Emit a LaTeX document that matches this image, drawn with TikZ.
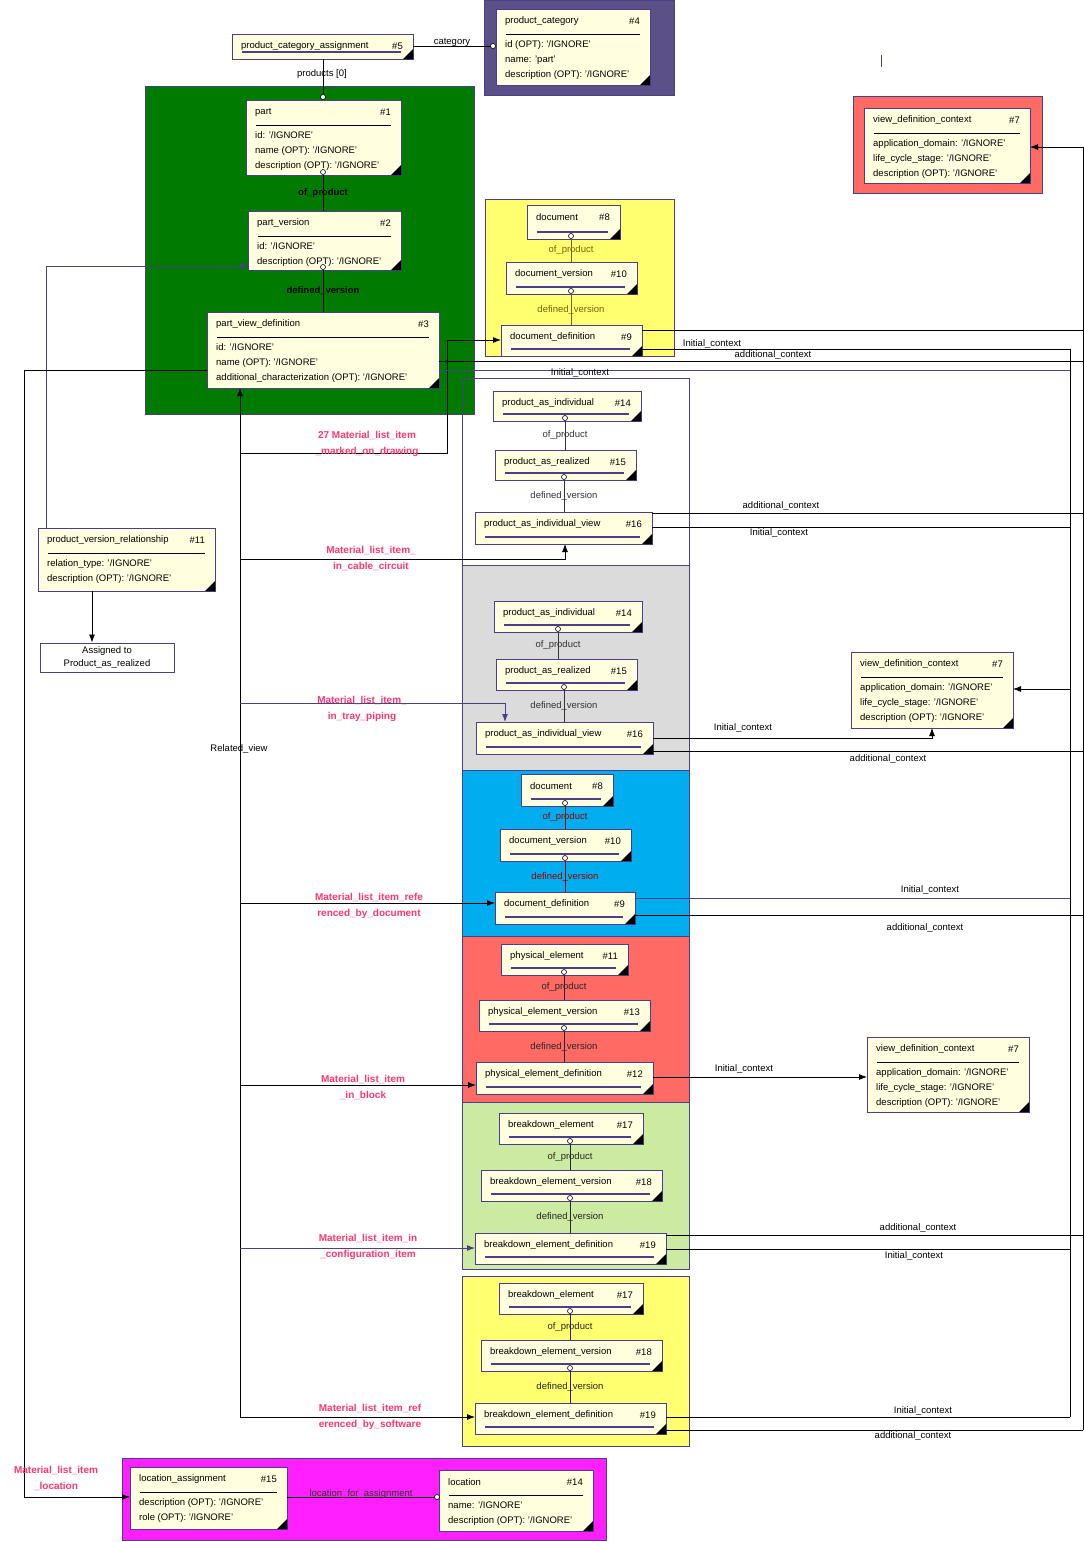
\documentclass[tikz,border=0pt]{standalone}
\usepackage{fontspec}
\setmainfont{Liberation Sans}
\usetikzlibrary{arrows.meta}
\definecolor{cream}{RGB}{255,255,224}
\definecolor{pur}{RGB}{75,63,138}
\definecolor{lbl}{RGB}{255,55,110}
\definecolor{gr}{RGB}{0,122,0}
\definecolor{pcat}{RGB}{91,80,135}
\definecolor{yel}{RGB}{255,255,112}
\definecolor{redc}{RGB}{255,106,100}
\definecolor{lgr}{RGB}{205,235,160}
\definecolor{mag}{RGB}{255,31,255}
\definecolor{olive}{RGB}{128,96,0}
\tikzset{
 ebox/.style={draw=pur,line width=1pt,fill=cream,inner sep=0pt,outer sep=0pt},
 etxt/.style={inner sep=0pt,font=\fontsize{9.5}{15}\selectfont},
 sep/.style={black,line width=0.8pt},
 sepp/.style={pur,line width=1.6pt},
 cont/.style={draw=pur,line width=1pt},
 conn/.style={black,line width=0.8pt},
 pconn/.style={pur,line width=0.9pt},
 arr/.style={-{Latex[length=8pt,width=6pt]}},
 rl/.style={inner sep=0pt,font=\fontsize{9.5}{11}\selectfont},
 red/.style={inner sep=0pt,font=\bfseries\fontsize{10}{16}\selectfont,text=lbl,align=center},
 circ/.style={circle,draw=black,fill=white,inner sep=0pt,minimum size=5pt,line width=0.6pt},
}
\newcommand\ent[8]{%
 \node[ebox,minimum width={(#4-#2)*1pt},minimum height={(#5-#3)*1pt}] (#1) at ({(#2+#4)/2},{(#3+#5)/2}) {};
 \fill[black] (#4,#5) -- ++(0,-10) -- ++(-10,10) -- cycle;
 \node[etxt,anchor=west] at (#2+9,#3+12) {#6};
 \node[etxt,anchor=east] at (#4-10,#3+12) {#7};
 \if\relax\detokenize{#8}\relax
   \draw[sepp] (#2+10,#5-7) -- (#4-12,#5-7);
 \else
   \draw[sep] (#2+10,#3+25) -- (#4-10,#3+25);
   \node[etxt,anchor=north west,align=left] at (#2+9,#3+31) {#8};
 \fi}
% relation: upper node, lower node, x, label, color
\newcommand\rel[5]{%
 \draw[conn,draw=#5] (#3,0|-#1.south) -- (#3,0|-#2.north);
 \node[circ] at ($(#3,0|-#1.south)+(0,-3)$) {};
 \node[rl,text=#5] at ($(#3,0|-#1.south)!0.5!(#3,0|-#2.north)$) {#4};}
\usetikzlibrary{calc}
\begin{document}
\begin{tikzpicture}[x=1pt,y=-1pt]
\useasboundingbox (0,0) rectangle (1084,1542);
% containers
\fill[pcat,draw=pur] (484,0) rectangle (674,95);
\fill[gr,draw=pur] (145,86) rectangle (474,414);
\fill[yel,draw=pur] (485,199) rectangle (674,356);
\fill[redc,draw=pur] (853,96) rectangle (1042,193);
\draw[cont] (462,378) rectangle (689,565);
\fill[black!14,draw=pur] (462,565) rectangle (689,770);
\fill[cyan,draw=pur] (462,770) rectangle (689,936);
\fill[redc,draw=pur] (462,936) rectangle (689,1102);
\fill[lgr,draw=pur] (462,1102) rectangle (689,1269);
\fill[yel,draw=pur] (462,1276) rectangle (689,1446);
\fill[mag,draw=pur] (122,1458) rectangle (606,1540);
\draw[pur,line width=0.8pt] (881,55) -- (881,67);

% ---- connectors behind boxes ----
\coordinate (ra) at (1070,349);
\coordinate (rb) at (1083,147);
\draw[conn] (1070,349) -- (1070,1417);
\draw[conn] (1083,147) -- (1083,1430);
% left rail
\draw[conn] (240,1417) -- (240,395);
\draw[conn] (24,370) -- (24,1497);

\ent{pca}{232}{34}{413}{59}{product\_category\_assignment}{\#5}{}
\ent{pc}{496}{9}{650}{85}{product\_category}{\#4}{id (OPT): '/IGNORE'\\name: 'part'\\description (OPT): '/IGNORE'}
\ent{part}{246}{100}{401}{175}{part}{\#1}{id: '/IGNORE'\\name (OPT): '/IGNORE'\\description (OPT): '/IGNORE'}
\ent{pv}{248}{211}{401}{270}{part\_version}{\#2}{id: '/IGNORE'\\description (OPT): '/IGNORE'}
\ent{pvd}{207}{312}{439}{388}{part\_view\_definition}{\#3}{id: '/IGNORE'\\name (OPT): '/IGNORE'\\additional\_characterization (OPT): '/IGNORE'}
\ent{doca}{527}{205}{620}{239}{document}{\#8}{}
\ent{dva}{506}{262}{637}{294}{document\_version}{\#10}{}
\ent{dda}{501}{325}{642}{356}{document\_definition}{\#9}{}
\ent{vdca}{864}{108}{1030}{183}{view\_definition\_context}{\#7}{application\_domain: '/IGNORE'\\life\_cycle\_stage: '/IGNORE'\\description (OPT): '/IGNORE'}
\ent{paia}{493}{391}{641}{421}{product\_as\_individual}{\#14}{}
\ent{para}{495}{450}{636}{480}{product\_as\_realized}{\#15}{}
\ent{paiva}{475}{512}{652}{544}{product\_as\_individual\_view}{\#16}{}
\ent{paib}{494}{601}{642}{632}{product\_as\_individual}{\#14}{}
\ent{parb}{496}{659}{637}{690}{product\_as\_realized}{\#15}{}
\ent{paivb}{476}{722}{653}{754}{product\_as\_individual\_view}{\#16}{}
\ent{vdcb}{851}{652}{1013}{728}{view\_definition\_context}{\#7}{application\_domain: '/IGNORE'\\life\_cycle\_stage: '/IGNORE'\\description (OPT): '/IGNORE'}
\ent{docb}{521}{774}{613}{806}{document}{\#8}{}
\ent{dvb}{500}{829}{631}{861}{document\_version}{\#10}{}
\ent{ddb}{495}{892}{635}{924}{document\_definition}{\#9}{}
\ent{phe}{501}{944}{628}{975}{physical\_element}{\#11}{}
\ent{pev}{479}{1000}{650}{1031}{physical\_element\_version}{\#13}{}
\ent{ped}{476}{1062}{653}{1094}{physical\_element\_definition}{\#12}{}
\ent{vdcc}{867}{1037}{1029}{1112}{view\_definition\_context}{\#7}{application\_domain: '/IGNORE'\\life\_cycle\_stage: '/IGNORE'\\description (OPT): '/IGNORE'}
\ent{bea}{499}{1113}{643}{1144}{breakdown\_element}{\#17}{}
\ent{beva}{481}{1170}{662}{1201}{breakdown\_element\_version}{\#18}{}
\ent{beda}{475}{1233}{666}{1264}{breakdown\_element\_definition}{\#19}{}
\ent{beb}{499}{1283}{643}{1314}{breakdown\_element}{\#17}{}
\ent{bevb}{481}{1340}{662}{1371}{breakdown\_element\_version}{\#18}{}
\ent{bedb}{475}{1403}{666}{1434}{breakdown\_element\_definition}{\#19}{}
\ent{la}{130}{1467}{287}{1529}{location\_assignment}{\#15}{description (OPT): '/IGNORE'\\role (OPT): '/IGNORE'}
\ent{loc}{439}{1470}{593}{1531}{location}{\#14}{name: '/IGNORE'\\description (OPT): '/IGNORE'}
\ent{pvr}{38}{528}{215}{591}{product\_version\_relationship}{\#11}{relation\_type: '/IGNORE'\\description (OPT): '/IGNORE'}
\node[draw=pur,line width=1pt,fill=white,minimum width=134pt,minimum height=29pt,inner sep=0pt,align=center,font=\fontsize{9.5}{13}\selectfont] (asg) at (107,657.5) {Assigned to\\Product\_as\_realized};

% relations
\rel{part}{pv}{323}{\textbf{of\_product}}{black}
\rel{pv}{pvd}{323}{\textbf{defined\_version}}{black}
\rel{doca}{dva}{571}{of\_product}{olive}
\rel{dva}{dda}{571}{defined\_version}{olive}
\rel{paia}{para}{565}{of\_product}{black!80}
\rel{para}{paiva}{564}{defined\_version}{black!80}
\rel{paib}{parb}{558}{of\_product}{black!80}
\rel{parb}{paivb}{564}{defined\_version}{black!80}
\rel{docb}{dvb}{565}{of\_product}{red!60!black}
\rel{dvb}{ddb}{565}{defined\_version}{red!60!black}
\rel{phe}{pev}{564}{of\_product}{black!85}
\rel{pev}{ped}{564}{defined\_version}{black!85}
\rel{bea}{beva}{570}{of\_product}{black!85}
\rel{beva}{beda}{570}{defined\_version}{black!85}
\rel{beb}{bevb}{570}{of\_product}{black!85}
\rel{bevb}{bedb}{570}{defined\_version}{black!85}

\draw[conn] (pca.south-|323,0) -- (323,94);
\node[circ] at (323,97) {};
\node[rl,fill=white,fill opacity=0,text opacity=1] at (322,74) {products [0]};
\draw[conn] (pca.east|-0,46) -- (493,46);
\node[circ] (cc) at (493,46) {};
\node[rl] at (452,42) {category};
\draw[conn] (la.east|-0,1497) -- (436,1497);
\node[circ] at (437,1497) {};
\node[rl,text=black!80] at (361,1494) {location\_for\_assignment};

% left side
\draw[pconn,arr] (46,0|-pvr.north) -- (46,266) -- (pv.west|-0,266);
\draw[conn,arr] (92,0|-pvr.south) -- (92,0|-asg.north);
\draw[conn,arr] (240,395) -- (pvd.south-|240,0);
\node[rl] at (239,749) {Related\_view};
\draw[conn] (pvd.west|-0,370) -- (24,370);
\draw[conn,arr] (24,1497) -- (la.west|-0,1497);
\node[red] at (56,1478) {Material\_list\_item\\\_location};

\draw[conn,arr] (240,453) -- (447,453) -- (447,340) -- (dda.west|-0,340);
\node[red] at (367,444) {27 Material\_list\_item\\\_marked\_on\_drawing};
\draw[conn,arr] (240,559) -- (565,559) -- (paiva.south-|565,0);
\node[red] at (371,558) {Material\_list\_item\_\\in\_cable\_circuit};
\draw[pconn,arr] (240,703) -- (505,703) -- (paivb.north-|505,0);
\node[red] at (362,709) {Material\_list\_item\_\\in\_tray\_piping};
\draw[conn,arr] (240,903) -- (ddb.west|-0,903);
\node[red] at (369,906) {Material\_list\_item\_refe\\renced\_by\_document};
\draw[conn,arr] (240,1085) -- (ped.west|-0,1085);
\node[red] at (363,1087) {Material\_list\_item\\\_in\_block};
\draw[pconn,arr] (240,1248) -- (beda.west|-0,1248);
\node[red] at (368,1247) {Material\_list\_item\_in\\\_configuration\_item};
\draw[conn,arr] (240,1417) -- (bedb.west|-0,1417);
\node[red] at (370,1417) {Material\_list\_item\_ref\\erenced\_by\_software};

% right side contexts
\draw[conn,arr] (1083,147) -- (vdca.east|-0,147);
\draw[conn,arr] (1070,689) -- (vdcb.east|-0,689);
\draw[conn] (dda.east|-0,330) -- (1083,330);
\draw[conn] (dda.east|-0,349) -- (1070,349);
\node[rl] at (712,344) {Initial\_context};
\draw[conn] (pvd.east|-0,361) -- (1083,361);
\node[rl] at (773,355) {additional\_context};
\draw[pconn] (pvd.east|-0,370) -- (1070,370);
\node[rl] at (580,373) {Initial\_context};
\draw[conn] (paiva.east|-0,513) -- (1083,513);
\node[rl] at (781,506) {additional\_context};
\draw[conn] (paiva.east|-0,527) -- (1070,527);
\node[rl] at (779,533) {Initial\_context};
\draw[conn,arr] (paivb.east|-0,738) -- (932,738) -- (vdcb.south-|932,0);
\node[rl] at (743,728) {Initial\_context};
\draw[conn] (paivb.east|-0,751) -- (1083,751);
\node[rl] at (888,759) {additional\_context};
\draw[pconn] (ddb.east|-0,898) -- (1070,898);
\node[rl] at (930,890) {Initial\_context};
\draw[conn] (ddb.east|-0,915) -- (1083,915);
\node[rl] at (925,928) {additional\_context};
\draw[conn,arr] (ped.east|-0,1077) -- (vdcc.west|-0,1077);
\node[rl] at (744,1069) {Initial\_context};
\draw[conn] (beda.east|-0,1235) -- (1083,1235);
\node[rl] at (918,1228) {additional\_context};
\draw[conn] (beda.east|-0,1249) -- (1070,1249);
\node[rl] at (914,1256) {Initial\_context};
\draw[conn] (bedb.east|-0,1417) -- (1070,1417);
\node[rl] at (923,1411) {Initial\_context};
\draw[conn] (bedb.east|-0,1430) -- (1083,1430);
\node[rl] at (913,1436) {additional\_context};
\end{tikzpicture}
\end{document}
